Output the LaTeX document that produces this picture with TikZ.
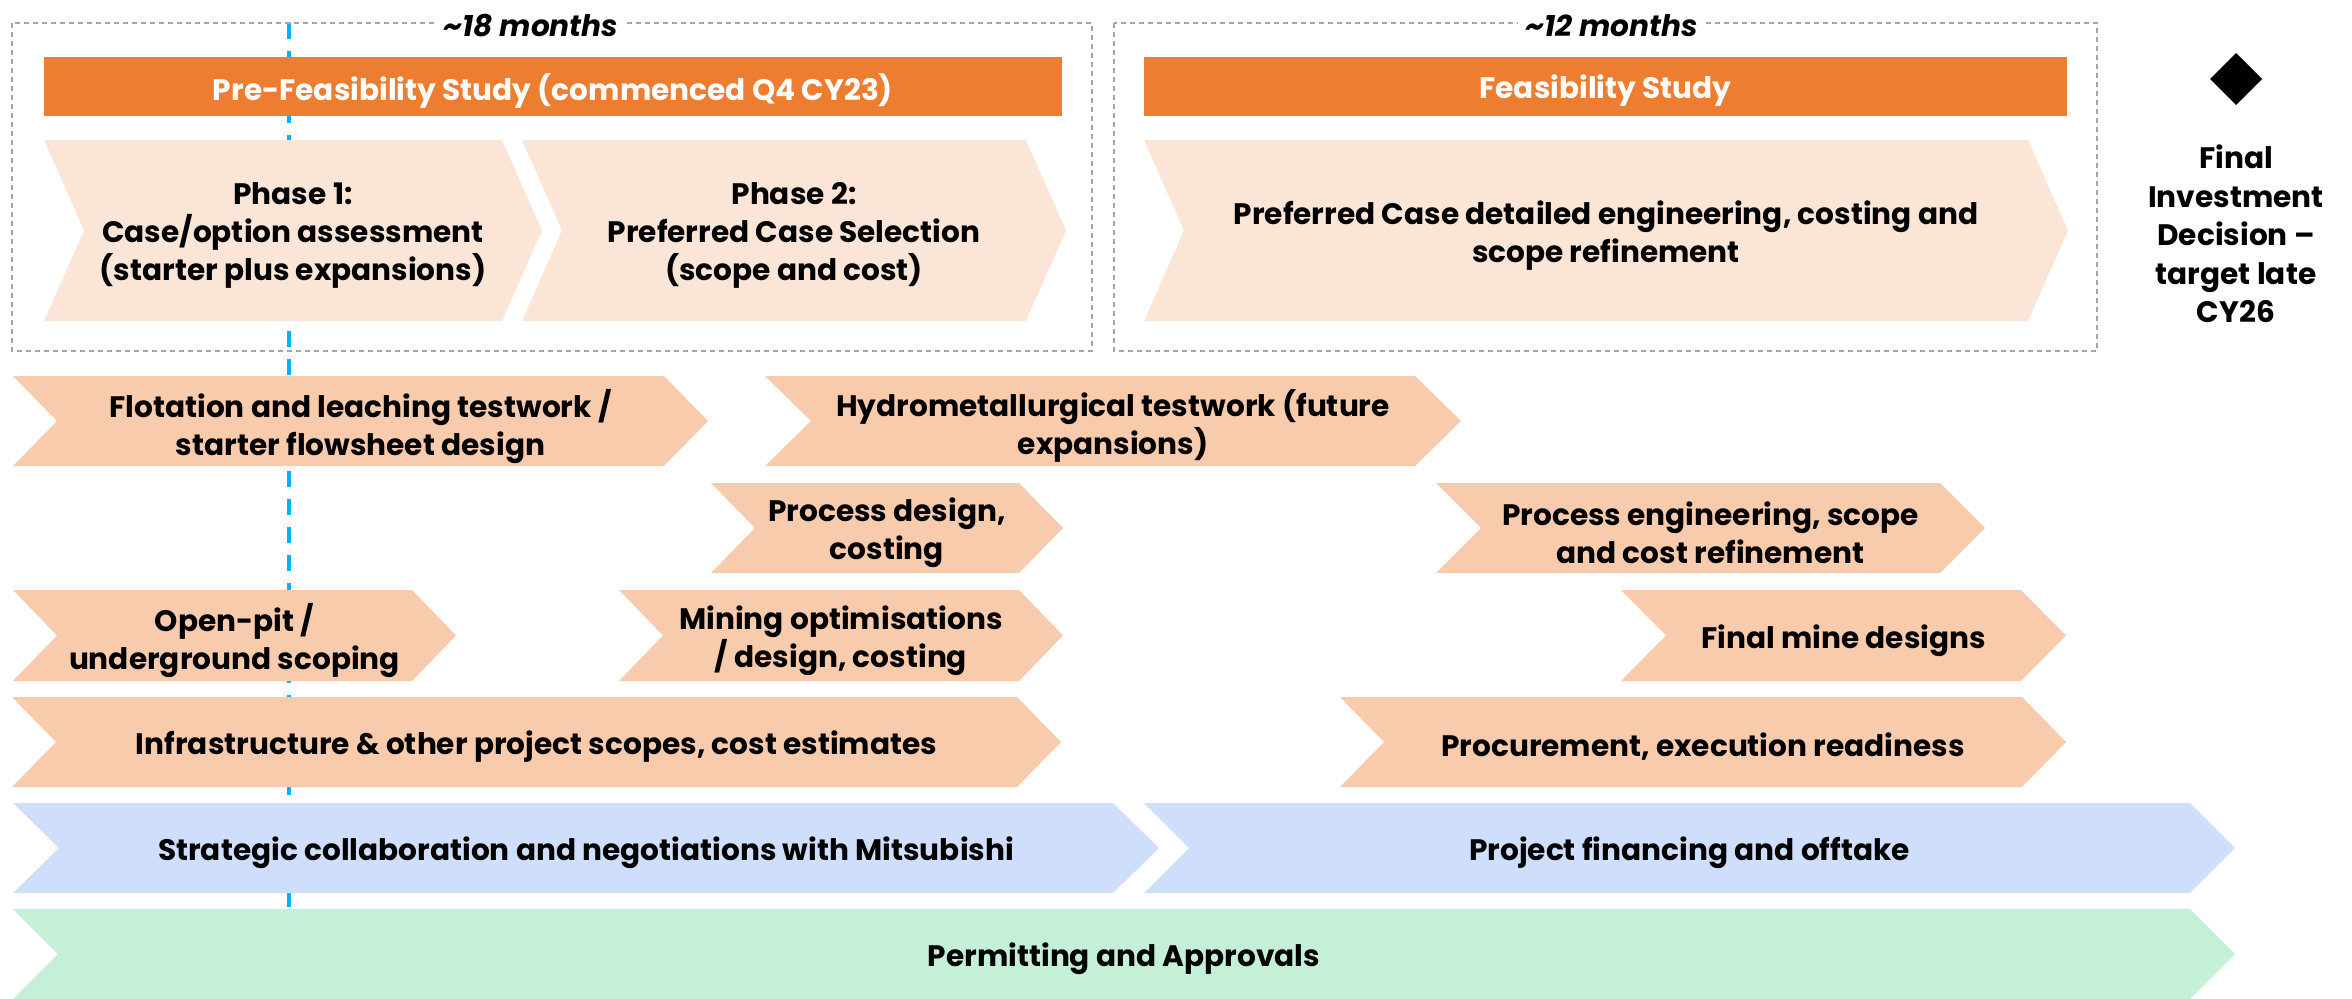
\documentclass[tikz,border=0pt]{standalone}
\usepackage{fontspec}
\setmainfont{Poppins}
\usepackage{tikz}
\usetikzlibrary{positioning}

\definecolor{pfsorange}{RGB}{237,125,49}
\definecolor{phasefill}{RGB}{251,229,214}
\definecolor{taskfill}{RGB}{248,203,173}
\definecolor{dealfill}{RGB}{207,222,251}
\definecolor{permitfill}{RGB}{195,240,214}
\definecolor{todayblue}{RGB}{0,176,240}
\definecolor{boxgrey}{RGB}{165,165,165}

\tikzset{
  lbl/.style={inner sep=0pt,align=center,font=\bfseries\fontsize{14.8}{19}\selectfont},
  studytitle/.style={lbl,text=white},
  span/.style={lbl,font=\bfseries\itshape\fontsize{14.8}{19}\selectfont,fill=white,inner xsep=4pt},
  studybox/.style={draw=boxgrey,line width=0.75pt,dash pattern=on 2.5pt off 2pt}
}

% chevron: [depth]{fill}{left}{right}{top}{bottom}{name}{text}
\newcommand{\chevbar}[8][44]{%
  \fill[#2] (#3,#5) -- (#4,#5) -- ({#4+#1},{(#5+#6)/2}) -- (#4,#6) -- (#3,#6) -- ({#3+#1},{(#5+#6)/2}) -- cycle;
  \node[lbl] (#7) at ({(#3+#4+#1)/2},{(#5+#6)/2+5}) {#8};
}

\begin{document}
\begin{tikzpicture}[x=0.5pt,y=0.5pt,yscale=-1,xscale=1]
\useasboundingbox (0,0) rectangle (2352,998);

%Straight Lines: today marker
\draw [todayblue,line width=2pt,dash pattern=on 8pt off 6pt] (289,23) -- (289,909);

%Shape: study boxes
\draw [studybox] (12,23) rectangle (1092,351);
\draw [studybox] (1114,23) rectangle (2097,351);
\node[span] (pfsspan) at (531,26) {\textasciitilde18 months};
\node[span] (fsspan) at (1612,26) {\textasciitilde12 months};

%Shape: study title bars
\fill [pfsorange] (44,57) rectangle (1062,116);
\node[studytitle] (pfs) at (553,91) {Pre-Feasibility Study (commenced Q4 CY23)};
\fill [pfsorange] (1144,57) rectangle (2067,116);
\node[studytitle] (fs) at (1605.5,91) {Feasibility Study};

%Shape: phases
\chevbar[40]{phasefill}{44}{502}{140}{321}{phase1}{Phase 1:\\Case/option assessment\\(starter plus expansions)}
\chevbar[40]{phasefill}{522}{1026}{140}{321}{phase2}{Phase 2:\\Preferred Case Selection\\(scope and cost)}
\chevbar[40]{phasefill}{1144}{2028}{140}{321}{fsphase}{Preferred Case detailed engineering, costing and\\scope refinement}

%Shape: FID milestone
\fill (2236,53) -- (2262,79) -- (2236,105) -- (2210,79) -- cycle;
\node[lbl,font=\bfseries\fontsize{14.8}{19.3}\selectfont] (fid) at (2236,234) {Final\\Investment\\Decision \textendash\\target late\\CY26};

%Shape: workstreams
\chevbar{taskfill}{13}{664}{376}{466}{flotation}{Flotation and leaching testwork /\\starter flowsheet design}
\chevbar[46]{taskfill}{765}{1415}{376}{466}{hydromet}{Hydrometallurgical testwork (future\\expansions)}
\chevbar{taskfill}{711}{1019}{483}{573}{procdesign}{Process design,\\costing}
\chevbar[45]{taskfill}{1436}{1940}{483}{573}{proceng}{Process engineering, scope\\and cost refinement}
\chevbar{taskfill}{13}{412}{590}{681}{openpit}{Open-pit /\\underground scoping}
\chevbar{taskfill}{619}{1019}{590}{681}{mining}{Mining optimisations\\/ design, costing}
\chevbar[45]{taskfill}{1621}{2021}{590}{681}{minedesign}{Final mine designs}
\chevbar{taskfill}{12}{1017}{697}{787}{infra}{Infrastructure \& other project scopes, cost estimates}
\chevbar{taskfill}{1340}{2022}{697}{787}{procure}{Procurement, execution readiness}

%Shape: commercial and approvals
\chevbar[46]{dealfill}{13}{1113}{803}{893}{mitsubishi}{Strategic collaboration and negotiations with Mitsubishi}
\chevbar[45]{dealfill}{1144}{2190}{803}{893}{financing}{Project financing and offtake}
\chevbar[45]{permitfill}{13}{2190}{909}{999}{permitting}{Permitting and Approvals}

\end{tikzpicture}
\end{document}
